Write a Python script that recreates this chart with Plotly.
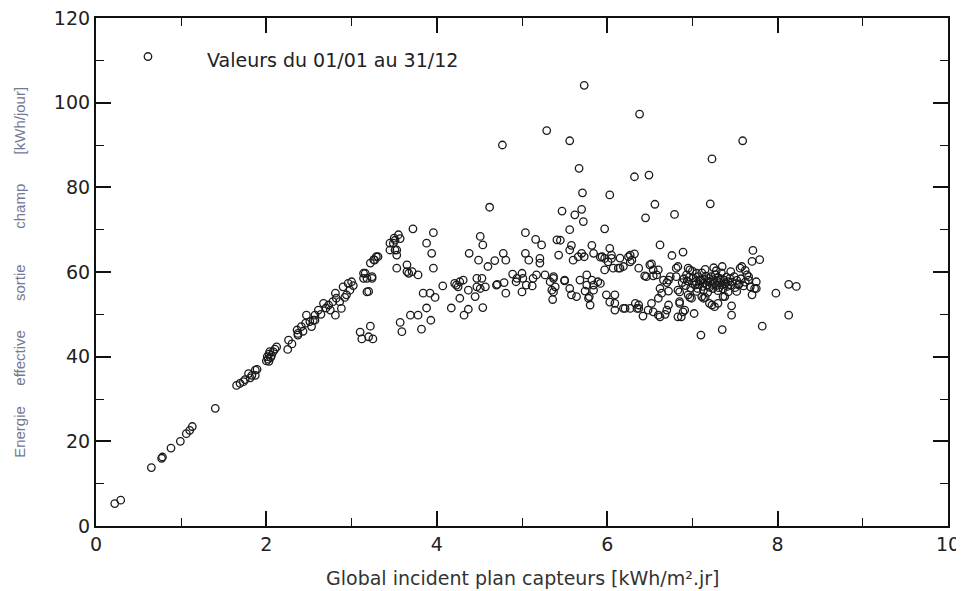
import plotly.graph_objects as go

# ---- data (daily values) ----
# Global incident irradiation [kWh/m².jr] and effective energy [kWh/jour]
irr_low = [0.22, 0.29, 0.61, 0.65, 0.77, 0.78, 0.88, 0.99, 1.06, 1.10, 1.13, 1.40,
           1.65, 1.69, 1.73, 1.75, 1.79, 1.81, 1.83, 1.87, 1.89, 1.87,
           2.00, 2.01, 2.02, 2.03, 2.04, 2.05, 2.06, 2.08, 2.10, 2.12, 2.03,
           2.25, 2.26, 2.30, 2.36, 2.37, 2.37, 2.41, 2.43, 2.46, 2.47, 2.51, 2.53,
           2.55, 2.57, 2.57, 2.61, 2.64, 2.67, 2.70, 2.73, 2.75, 2.78, 2.81, 2.81,
           2.82, 2.86, 2.88, 2.90, 2.92, 2.94, 2.96, 2.98, 3.00, 3.02]
en_low = [5.3, 6.1, 110.9, 13.8, 16.0, 16.3, 18.4, 20.0, 21.8, 22.6, 23.5, 27.8,
          33.2, 33.7, 34.1, 34.6, 36.0, 35.0, 35.6, 36.8, 37.0, 35.6,
          39.0, 40.0, 39.4, 40.6, 41.2, 39.8, 40.3, 41.2, 41.8, 42.3, 38.9,
          41.7, 43.9, 43.0, 46.3, 45.1, 45.5, 47.1, 46.0, 47.9, 49.8, 48.3, 47.1,
          48.6, 49.8, 48.6, 51.0, 50.0, 52.6, 51.5, 52.2, 51.0, 53.0, 55.0, 49.8,
          53.8, 53.0, 51.4, 56.5, 54.0, 54.6, 57.3, 55.7, 57.7, 56.8]

irr_mid = [3.14, 3.16, 3.14, 3.18, 3.24, 3.24, 3.18, 3.20, 3.22, 3.26, 3.27, 3.29, 3.31,
           3.10, 3.12, 3.20, 3.22, 3.25,
           3.45, 3.45, 3.49, 3.51, 3.51, 3.53, 3.53, 3.55, 3.57, 3.50, 3.53, 3.57, 3.59,
           3.65, 3.65, 3.67, 3.71, 3.78, 3.72, 3.69, 3.78, 3.82, 3.88, 3.93, 3.84, 3.92,
           3.98, 3.88, 3.96, 3.94, 3.96, 4.07,
           4.17, 4.21, 4.23, 4.25, 4.27, 4.27, 4.31, 4.32, 4.37, 4.37, 4.38, 4.45, 4.47,
           4.47, 4.49, 4.51, 4.51, 4.53, 4.54, 4.54, 4.57, 4.60, 4.62,
           4.68, 4.70, 4.71, 4.77, 4.78, 4.79, 4.81, 4.81, 4.89, 4.93, 4.94,
           5.00, 5.00, 5.01, 5.04, 5.04, 5.05, 5.08, 5.12, 5.13, 5.16, 5.17, 5.21, 5.21,
           5.23, 5.27, 5.29, 5.33, 5.35, 5.36, 5.37, 5.37, 5.39, 5.37, 5.41, 5.43, 5.45]
en_mid = [59.7, 59.7, 58.5, 58.5, 58.9, 58.5, 55.3, 55.4, 62.1, 62.9, 62.8, 63.6, 63.6,
          45.8, 44.2, 44.7, 47.2, 44.2,
          66.8, 65.2, 66.8, 67.5, 65.2, 65.2, 64.0, 68.8, 67.9, 68.0, 60.9, 48.1, 45.9,
          61.7, 60.1, 59.7, 60.1, 59.3, 70.2, 49.8, 49.8, 46.5, 51.5, 48.6, 55.0, 55.0,
          54.0, 66.8, 69.3, 64.4, 60.9, 56.7,
          51.5, 57.3, 56.9, 56.5, 57.7, 53.8, 58.1, 49.8, 51.2, 55.7, 64.4, 54.2, 58.5,
          56.5, 62.8, 68.4, 56.1, 58.5, 66.4, 51.6, 56.5, 61.3, 75.3,
          62.7, 56.9, 57.1, 90.0, 64.4, 57.5, 62.8, 55.0, 59.5, 57.7, 58.5,
          59.7, 55.3, 58.5, 69.3, 64.4, 56.9, 62.8, 56.7, 58.5, 67.7, 59.3, 63.2, 62.1,
          66.4, 59.3, 93.4, 57.7, 55.7, 53.5, 58.9, 58.5, 56.5, 55.3, 67.6, 64.0, 67.5]

irr_high = [5.47, 5.50, 5.50, 5.56, 5.56, 5.56, 5.56, 5.58, 5.58, 5.60, 5.62, 5.64, 5.66,
            5.67, 5.68, 5.70, 5.71, 5.72, 5.73, 5.70, 5.73, 5.74, 5.76, 5.76, 5.78, 5.80, 5.79,
            5.82, 5.82, 5.84, 5.84, 5.84, 5.89, 5.92, 5.92, 5.94, 5.97, 5.97, 5.97, 5.99,
            6.01, 6.03, 6.03, 6.03, 6.05, 6.05, 6.07, 6.09, 6.09, 6.09, 6.13, 6.15, 6.15,
            6.19, 6.19, 6.21,
            6.25, 6.27, 6.27, 6.27, 6.29, 6.32, 6.32, 6.33, 6.35, 6.37, 6.37, 6.37, 6.38,
            6.42, 6.44, 6.45, 6.46, 6.48, 6.49, 6.50, 6.52, 6.52, 6.54, 6.54, 6.54, 6.56,
            6.58, 6.60, 6.60, 6.60,
            6.62, 6.62, 6.62, 6.64, 6.66, 6.68, 6.70, 6.70, 6.72, 6.72, 6.72, 6.74, 6.76,
            6.79, 6.81, 6.81, 6.83, 6.83, 6.83, 6.85, 6.85, 6.85, 6.87, 6.89, 6.89, 6.91,
            6.93, 6.95, 6.95, 6.97, 6.97, 6.99]
en_high = [74.4, 58.1, 57.9, 91.0, 70.0, 65.2, 56.1, 66.3, 54.6, 62.8, 73.5, 54.2, 63.6,
           84.5, 58.1, 74.8, 78.7, 71.9, 104.1, 64.4, 63.6, 55.5, 59.3, 56.9, 53.8, 52.2, 54.2,
           66.3, 58.1, 64.4, 55.7, 56.9, 57.7, 57.3, 63.5, 63.6, 70.2, 60.5, 63.2, 54.6,
           62.4, 78.2, 65.6, 52.9, 64.0, 63.2, 60.9, 54.6, 52.6, 51.0, 60.9, 63.3, 60.9,
           61.3, 51.4, 51.4,
           63.6, 64.0, 62.4, 51.4, 62.8, 64.3, 82.5, 52.6, 51.4, 60.9, 51.4, 52.2, 97.3,
           49.6, 59.1, 72.8, 58.9, 51.0, 82.9, 61.7, 61.9, 52.6, 60.5, 50.6, 59.1, 76.0,
           59.3, 60.5, 53.8, 49.8,
           66.4, 56.1, 49.4, 55.0, 58.1, 50.0, 57.5, 51.0, 58.1, 55.5, 52.2, 58.9, 63.9,
           73.6, 60.9, 58.9, 61.3, 55.7, 49.4, 55.3, 53.0, 52.6, 49.4, 64.7, 50.6, 51.0,
           59.3, 60.9, 54.6, 54.0, 60.5, 53.8]

irr_peak = [7.02, 7.05, 7.09, 7.10, 7.11, 7.11, 7.13, 7.13, 7.15, 7.20, 7.21, 7.23, 7.23,
            7.26, 7.30, 7.35, 7.35, 7.36, 7.38,
            7.46, 7.46, 7.52, 7.54, 7.56, 7.58, 7.59, 7.62, 7.64, 7.66, 7.66, 7.68, 7.70,
            7.70, 7.71, 7.73, 7.75, 7.75, 7.79, 7.82, 7.98, 8.13, 8.13, 8.22]
en_peak = [50.2, 59.7, 58.1, 45.1, 59.8, 54.2, 55.7, 53.8, 54.0, 52.6, 76.1, 86.7, 52.2,
           51.8, 52.6, 46.4, 61.3, 54.2, 54.2,
           52.0, 49.8, 55.4, 57.0, 60.9, 61.3, 91.0, 60.4, 59.3, 58.9, 58.1, 56.5, 62.5,
           54.6, 65.1, 56.1, 57.7, 56.1, 62.9, 47.2, 55.0, 57.1, 49.8, 56.6]

irr_dense = [6.88, 6.90, 6.92, 6.94, 6.96, 6.98, 7.00, 7.01, 7.03, 7.04, 7.06, 7.07, 7.08,
             7.10, 7.12, 7.13, 7.14, 7.16, 7.17, 7.18, 7.19, 7.20, 7.21, 7.22, 7.23, 7.24,
             7.25, 7.26, 7.27, 7.28, 7.29, 7.30, 7.31, 7.32, 7.33, 7.34, 7.35, 7.36, 7.37,
             7.38, 7.40, 7.41, 7.42, 7.44, 7.45, 7.47, 7.49, 7.50, 7.52, 7.55, 7.57, 7.60,
             7.62, 7.05, 7.18, 7.30, 7.42, 7.00, 7.15, 7.28, 7.45, 7.25]
en_dense = [57.5, 58.4, 56.8, 57.9, 58.8, 56.2, 57.3, 58.6, 56.9, 57.8, 56.1, 58.9, 57.0,
            57.9, 56.6, 58.3, 57.4, 59.0, 56.9, 57.8, 58.5, 56.4, 57.6, 58.9, 57.1, 56.1,
            58.2, 57.3, 59.4, 56.8, 57.9, 58.7, 56.3, 57.5, 58.4, 59.8, 57.0, 56.0, 58.1,
            57.2, 58.8, 56.6, 57.7, 58.5, 56.9, 57.6, 58.9, 56.3, 58.0, 57.2, 58.4, 56.7,
            57.6, 55.4, 55.2, 55.6, 55.3, 60.2, 60.6, 60.3, 60.1, 61.0]

x_vals = irr_low + irr_mid + irr_high + irr_peak + irr_dense
y_vals = en_low + en_mid + en_high + en_peak + en_dense

x_ticks = [0, 2, 4, 6, 8, 10]
y_ticks = [0, 20, 40, 60, 80, 100, 120]
y_title_words = ["Energie", "effective", "sortie", "champ", "[kWh/jour]"]

FONT = "DejaVu Sans, Liberation Sans, Arial, sans-serif"
FONT_Y = "Liberation Sans, Arial, sans-serif"

fig = go.Figure()
fig.add_trace(go.Scatter(
    x=x_vals, y=y_vals, mode="markers",
    marker=dict(symbol="circle-open", size=7.5, color="#1a1a1a", line=dict(width=1.3, color="#1a1a1a")),
    showlegend=False, hoverinfo="x+y",
))

axis_common = dict(
    showline=True, linewidth=2.2, linecolor="#111", mirror="ticks",
    ticks="inside", ticklen=15, tickwidth=1.6, tickcolor="#111",
    showgrid=False, zeroline=False, automargin=False, ticklabeloverflow="allow",
    tickfont=dict(family=FONT, size=19, color="#222"),
)

fig.update_xaxes(range=[0, 10], tickvals=x_ticks,
                 minor=dict(ticks="inside", ticklen=8, dtick=1, tick0=0, tickwidth=1.4, tickcolor="#111", showgrid=False),
                 **axis_common)
fig.update_yaxes(range=[0, 120], tickvals=y_ticks,
                 minor=dict(ticks="inside", ticklen=8, dtick=10, tick0=0, tickwidth=1.4, tickcolor="#111", showgrid=False),
                 **axis_common)

annotations = [
    dict(text="Valeurs du 01/01 au 31/12", x=1.28, y=110, xref="x", yref="y",
         xanchor="left", yanchor="middle", showarrow=False,
         font=dict(family=FONT, size=19, color="#222")),
    dict(text="Global incident plan capteurs [kWh/m².jr]", x=0.5, y=-0.103,
         xref="paper", yref="paper", xanchor="center", yanchor="middle", showarrow=False,
         font=dict(family=FONT, size=19, color="#333")),
]
word_y = [0.186, 0.332, 0.479, 0.629, 0.799]
for w, yy in zip(y_title_words, word_y):
    annotations.append(dict(text=w, x=-0.09, y=yy, xref="paper", yref="paper",
                            xanchor="center", yanchor="middle", textangle=-90, showarrow=False,
                            font=dict(family=FONT_Y, size=15, color="#737894")))

# page body has an 8px default margin, so the figure is 8px smaller and margins shifted
fig.update_layout(
    width=956, height=583,
    margin=dict(l=88, r=16, t=10, b=65, autoexpand=False),
    paper_bgcolor="white", plot_bgcolor="white",
    annotations=annotations,
)

fig.write_html("out.html")
